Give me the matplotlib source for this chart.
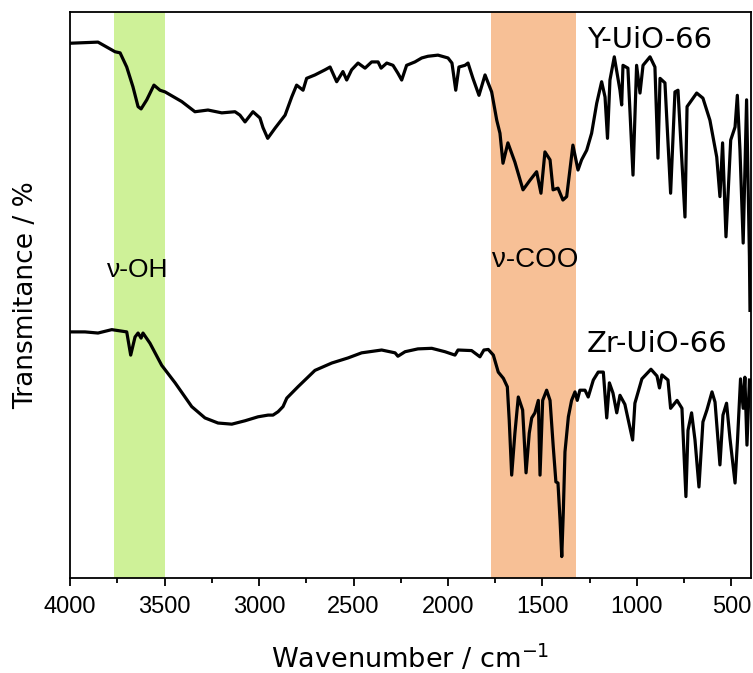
import numpy as np
import matplotlib
matplotlib.use('Agg')
import matplotlib.pyplot as plt
from matplotlib.ticker import MultipleLocator

# Espectros FTIR (numero de onda em cm-1, transmitancia em unidades arbitrarias)
y_wn = [4000, 3852, 3762, 3735, 3700, 3667, 3640, 3624, 3594, 3556, 3524, 3497,
        3409, 3339, 3270, 3197, 3127, 3101, 3074, 3032, 2995, 2979, 2954, 2915,
        2862, 2827, 2801, 2767, 2748, 2704, 2651, 2624, 2589, 2556, 2536, 2510,
        2476, 2439, 2404, 2370, 2354, 2324, 2291, 2265, 2245, 2219, 2175, 2139,
        2106, 2053, 2000, 1979, 1959, 1942, 1910, 1894, 1868, 1836, 1804, 1769,
        1742, 1725, 1709, 1683, 1646, 1603, 1566, 1531, 1508, 1487, 1460, 1444,
        1418, 1392, 1372, 1339, 1312, 1293, 1266, 1240, 1213, 1187, 1169, 1156,
        1143, 1120, 1090, 1081, 1074, 1048, 1021, 1002, 984, 968, 931, 905,
        889, 878, 852, 822, 799, 783, 746, 735, 684, 651, 614, 578,
        561, 547, 529, 504, 481, 469, 455, 438, 420, 405, 402]
y_tr = [94.5, 94.7, 93.0, 92.8, 90.3, 86.8, 83.3, 82.9, 84.5, 87.1, 86.2, 85.9,
        84.2, 82.4, 82.7, 82.2, 82.4, 81.8, 80.6, 82.4, 81.3, 79.6, 77.7, 79.5,
        81.8, 85.0, 87.1, 86.2, 88.3, 88.9, 89.8, 90.3, 87.7, 89.5, 88.0, 89.8,
        91.0, 90.1, 91.2, 91.2, 90.1, 91.0, 90.6, 89.2, 88.0, 90.6, 91.2, 91.9,
        92.2, 92.4, 91.9, 91.0, 86.2, 90.3, 90.6, 91.0, 88.3, 85.3, 88.9, 85.9,
        80.9, 78.6, 73.3, 76.9, 73.5, 68.6, 70.3, 71.8, 68.0, 75.3, 73.9, 68.6,
        68.9, 66.8, 67.4, 76.5, 72.1, 73.9, 75.6, 78.6, 83.9, 87.7, 85.0, 77.7,
        88.0, 92.1, 86.2, 83.6, 90.6, 90.1, 71.2, 90.6, 85.7, 90.6, 92.1, 90.3,
        74.2, 88.3, 87.5, 68.0, 85.9, 86.2, 63.8, 83.3, 85.7, 84.8, 80.9, 74.4,
        67.4, 76.9, 60.3, 77.4, 79.7, 85.3, 75.6, 59.2, 84.5, 56.8, 47.3]

zr_wn = [4000, 3921, 3852, 3779, 3700, 3679, 3656, 3640, 3624, 3614, 3577, 3515,
         3444, 3356, 3286, 3217, 3144, 3074, 3005, 2952, 2926, 2899, 2873, 2853,
         2794, 2704, 2615, 2529, 2457, 2351, 2280, 2265, 2227, 2159, 2086, 2016,
         1963, 1947, 1875, 1831, 1810, 1787, 1760, 1734, 1707, 1686, 1676, 1663,
         1646, 1628, 1605, 1587, 1570, 1557, 1540, 1522, 1513, 1499, 1478, 1460,
         1443, 1429, 1418, 1407, 1398, 1390, 1381, 1363, 1346, 1328, 1316, 1302,
         1275, 1258, 1231, 1205, 1178, 1160, 1146, 1127, 1107, 1090, 1064, 1023,
         1011, 974, 926, 894, 881, 868, 836, 822, 788, 762, 741, 730,
         711, 693, 672, 651, 630, 603, 587, 561, 545, 526, 508, 481,
         468, 452, 438, 429, 418, 405]
zr_tr = [43.5, 43.5, 43.3, 43.9, 43.5, 39.4, 42.6, 43.3, 42.4, 43.3, 41.5, 37.6,
         34.5, 30.3, 28.3, 27.4, 27.2, 27.8, 28.5, 28.8, 28.8, 29.4, 30.3, 31.8,
         33.8, 36.7, 38.0, 38.9, 39.8, 40.3, 39.8, 39.2, 40.0, 40.5, 40.6, 40.0,
         39.4, 40.3, 40.2, 39.1, 40.3, 40.4, 39.4, 36.4, 35.3, 33.8, 27.9, 18.2,
         25.6, 32.0, 29.7, 18.6, 25.6, 28.3, 29.2, 31.4, 18.2, 31.4, 33.2, 31.4,
         23.2, 17.0, 16.8, 10.2, 3.8, 11.5, 22.3, 28.5, 31.4, 32.9, 31.4, 33.2,
         33.2, 32.0, 35.0, 36.4, 36.4, 28.3, 34.5, 32.7, 29.2, 32.3, 30.7, 24.4,
         30.9, 35.2, 36.9, 35.7, 33.6, 35.9, 35.0, 30.0, 31.4, 30.0, 14.4, 26.1,
         29.2, 24.4, 16.1, 27.6, 29.7, 32.9, 31.1, 20.0, 28.8, 30.9, 24.7, 16.8,
         24.4, 35.2, 30.0, 35.5, 23.5, 35.0]

# faixas destacadas
oh_band = (3765, 3500)
coo_band = (1770, 1325)

fig = plt.figure(figsize=(7.53, 6.73), dpi=100)
ax = fig.add_axes([0.093, 0.141, 0.904, 0.841])

ax.axvspan(oh_band[1], oh_band[0], color='#cef198', lw=0, zorder=0)
ax.axvspan(coo_band[1], coo_band[0], color='#f7c096', lw=0, zorder=0)

ax.plot(y_wn, y_tr, color='black', lw=2.3, zorder=2)
ax.plot(zr_wn, zr_tr, color='black', lw=2.3, zorder=2)

ax.set_xlim(4000, 398)
ax.set_ylim(0, 100)
ax.set_yticks([])
ax.xaxis.set_major_locator(MultipleLocator(500))
ax.xaxis.set_minor_locator(MultipleLocator(250))
ax.tick_params(axis='x', which='major', length=6, width=1.3, direction='out', pad=7,
               labelsize=17, labelfontfamily=['Liberation Sans Narrow', 'Liberation Sans'])
ax.tick_params(axis='x', which='minor', length=3.5, width=1.3, direction='out')
for s in ax.spines.values():
    s.set_linewidth(1.3)

ax.text(1265, 93.6, 'Y-UiO-66', fontsize=21, ha='left', va='baseline', family='DejaVu Sans')
ax.text(1265, 40.0, 'Zr-UiO-66', fontsize=21, ha='left', va='baseline', family='DejaVu Sans')
ax.text(3640, 53.2, 'ν-OH', fontsize=19, ha='center', va='baseline', family='Liberation Sans')
ax.text(1540, 55.0, 'ν-COO', fontsize=20, ha='center', va='baseline', family='Liberation Sans')

ax.set_xlabel(r'Wavenumber / cm$^{-1}$', fontsize=19.5, labelpad=18)
ax.set_ylabel('Transmitance / %', fontsize=19, labelpad=22)

fig.savefig('out.png', dpi=100)
